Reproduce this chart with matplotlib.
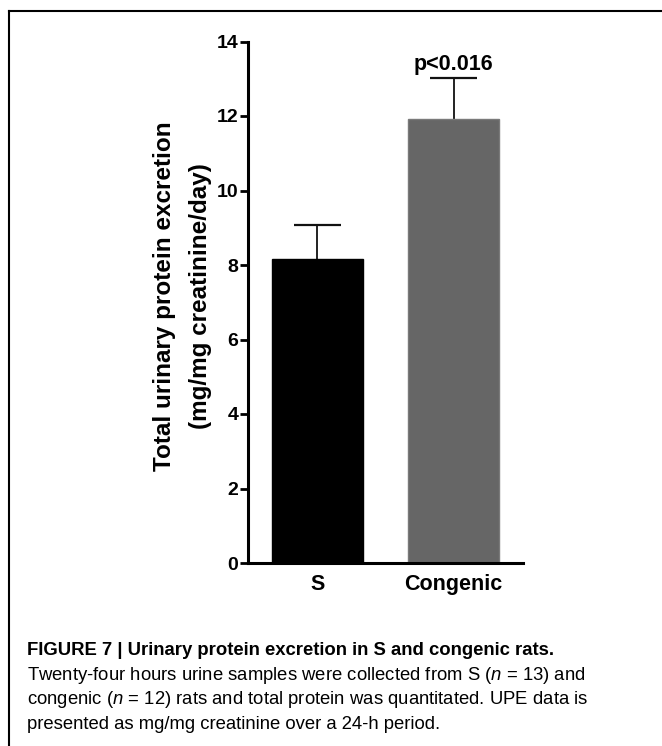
import matplotlib
matplotlib.use("Agg")
import matplotlib.pyplot as plt
from matplotlib.lines import Line2D
from matplotlib import font_manager

categories = ["S", "Congenic"]
means = [8.15, 11.92]
errors = [0.92, 1.11]
bar_colors = ["#000000", "#666666"]
yticks = [0, 2, 4, 6, 8, 10, 12, 14]
annotation = "p<0.016"
ylabel = "Total urinary protein excretion\n(mg/mg creatinine/day)"
caption_title = "FIGURE 7 | Urinary protein excretion in S and congenic rats."
caption_lines = [
    "Twenty-four hours urine samples were collected from S ($n$ = 13) and",
    "congenic ($n$ = 12) rats and total protein was quantitated. UPE data is",
    "presented as mg/mg creatinine over a 24-h period.",
]

names = {f.name for f in font_manager.fontManager.ttflist}
narrow = "Liberation Sans Narrow" if "Liberation Sans Narrow" in names else "Liberation Sans"

plt.rcParams["font.family"] = ["Liberation Sans", "DejaVu Sans"]
plt.rcParams["mathtext.fontset"] = "custom"
plt.rcParams["mathtext.it"] = narrow + ":italic"
plt.rcParams["mathtext.rm"] = narrow

fig = plt.figure(figsize=(6.62, 7.46), dpi=100)
W, H = 662, 746
ax = fig.add_axes([248 / W, 1 - 563 / H, (523 - 248) / W, (563 - 41.5) / H])

x = [0, 1]
tops = [m + e for m, e in zip(means, errors)]
ax.bar(x, means, width=0.67, color=bar_colors, edgecolor=["#000000", "#7a7a7a"],
       linewidth=1, zorder=2)
ax.vlines(x, means, tops, color="#111111", lw=1.3, zorder=1)
ax.hlines(tops, [xi - 0.17 for xi in x], [xi + 0.17 for xi in x], color="#111111",
          lw=1.6, zorder=1)

ax.set_xlim(-0.51, 1.51)
ax.set_ylim(0, 14)
ax.set_yticks(yticks)
ax.set_xticks(x)
ax.set_xticklabels(categories, fontsize=15.5, fontweight="bold")
for lab in ax.get_yticklabels():
    lab.set_fontsize(14)
    lab.set_fontweight("bold")
ax.tick_params(axis="y", length=6, width=2, pad=1)
ax.tick_params(axis="x", length=0, pad=8)
for s in ["top", "right"]:
    ax.spines[s].set_visible(False)
for s in ["left", "bottom"]:
    ax.spines[s].set_linewidth(2.2)

ax.set_ylabel(ylabel, fontsize=17.5, fontweight="bold", linespacing=1.75)
ax.yaxis.set_label_coords(-0.13, 0.512)

ax.text(1, tops[1] + 0.06, annotation, ha="center", va="bottom",
        fontsize=15.5, fontweight="bold")

# border lines (top and left)
fig.add_artist(Line2D([9 / W, 1], [1 - 11 / H, 1 - 11 / H], color="black", lw=1.5,
                      transform=fig.transFigure))
fig.add_artist(Line2D([9 / W, 9 / W], [1 - 11 / H, 0], color="black", lw=1.5,
                      transform=fig.transFigure))

fig.text(27 / W, 1 - 655 / H, caption_title, fontsize=13.3, fontweight="bold",
         family=[narrow, "DejaVu Sans"], va="baseline", ha="left")
for i, line in enumerate(caption_lines):
    fig.text(27 / W, 1 - (680 + 24.5 * i) / H, line, fontsize=13.3,
             family=[narrow, "DejaVu Sans"], va="baseline", ha="left")

fig.savefig("out.png", dpi=100)
